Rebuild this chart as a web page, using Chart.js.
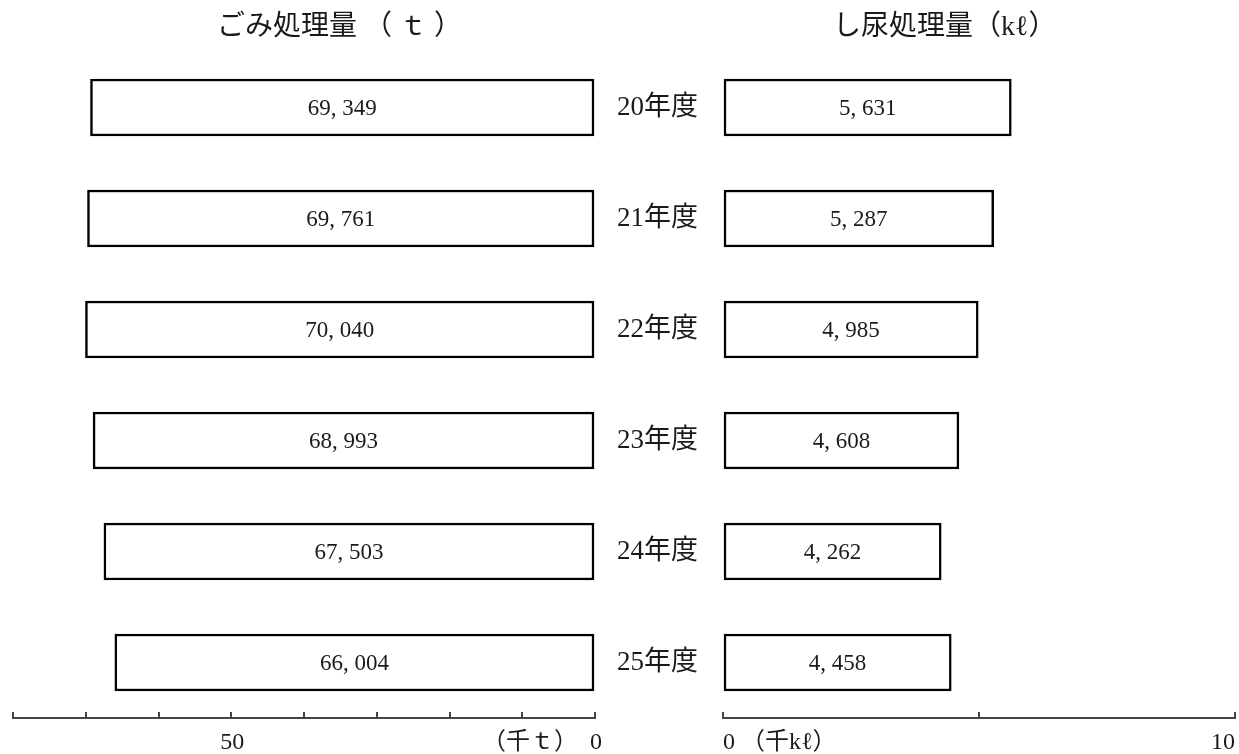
<!DOCTYPE html>
<html><head><meta charset="utf-8">
<script src="https://cdn.jsdelivr.net/npm/chart.js@4.4.0/dist/chart.umd.min.js"></script>
<style>
html,body{margin:0;padding:0;background:#fff;width:1239px;height:754px;overflow:hidden}
#wrap{position:relative;width:1239px;height:754px}
canvas{position:absolute;top:0}
#cL{left:0}
#cR{left:600px}
</style></head><body>
<div id="wrap"><canvas id="cL" width="620" height="754"></canvas><canvas id="cR" width="639" height="754"></canvas></div>
<script>
const categories = ["20年度","21年度","22年度","23年度","24年度","25年度"];
const garbageTons = [69349, 69761, 70040, 68993, 67503, 66004];
const nightSoilKl = [5631, 5287, 4985, 4608, 4262, 4458];
const garbageTitle = "ごみ処理量 （ ｔ ）";
const nightSoilTitle = "し尿処理量（kℓ）";
// the zero label is padded with blank space of equal width on its right so that "0" sits centred on its tick
const garbageTickLabels = {0: "（千ｔ）  0　　　　  ", 50000: "50"};
const nightSoilTickLabels = {0: "0 （千kℓ）", 10000: "10"};

const FAMILY = "'Liberation Serif', 'Noto Sans CJK JP', serif";
const INK = '#1a1a1a';
const AXIS = '#444444';
Chart.defaults.font.family = FAMILY;
Chart.defaults.color = INK;

const valueLabels = {
  id: 'valueLabels',
  afterDatasetsDraw(chart) {
    const ctx = chart.ctx;
    ctx.save();
    ctx.font = '23px ' + FAMILY;
    ctx.fillStyle = INK;
    ctx.textAlign = 'center';
    ctx.textBaseline = 'middle';
    chart.data.datasets.forEach((ds, di) => {
      chart.getDatasetMeta(di).data.forEach((bar, i) => {
        const txt = ds.data[i].toLocaleString('en-US').replace(/,/g, ', ');
        ctx.fillText(txt, (bar.x + bar.base) / 2, bar.y + 1);
      });
    });
    ctx.restore();
  }
};

const sideTitle = {
  id: 'sideTitle',
  afterDraw(chart, args, opts) {
    const ctx = chart.ctx;
    ctx.save();
    ctx.font = '28px ' + FAMILY;
    ctx.fillStyle = INK;
    ctx.textAlign = 'left';
    ctx.textBaseline = 'middle';
    ctx.fillText(opts.text, opts.x, opts.y);
    ctx.restore();
  }
};

function noEdgePadding(s) {
  s.paddingLeft = 0; s.paddingRight = 0; s.paddingTop = 0; s.paddingBottom = 0;
}

function xAxis(max, step, labels, reverse, align, labelOffset) {
  return {
    type: 'linear',
    position: 'bottom',
    min: 0, max: max, reverse: reverse,
    ticks: {
      stepSize: step,
      autoSkip: false,
      maxRotation: 0,
      align: align,
      padding: 16,
      labelOffset: labelOffset,
      color: INK,
      font: {size: 24, family: FAMILY},
      callback: (v) => (labels[v] !== undefined ? labels[v] : '')
    },
    grid: {display: true, drawOnChartArea: false, drawTicks: true, tickLength: -6, color: AXIS, lineWidth: 2},
    border: {display: true, color: AXIS, width: 2},
    afterFit: (s) => { s.height = 36; noEdgePadding(s); }
  };
}

const common = {
  responsive: false,
  animation: false,
  events: [],
  devicePixelRatio: 1,
  indexAxis: 'y'
};

function barSet(values) {
  return {
    data: values,
    backgroundColor: '#ffffff',
    borderColor: '#000000',
    borderWidth: 2.5,
    borderSkipped: false,
    barThickness: 57
  };
}

new Chart(document.getElementById('cL'), {
  type: 'bar',
  data: {labels: categories, datasets: [barSet(garbageTons)]},
  options: Object.assign({}, common, {
    layout: {padding: {left: 13, right: 25, top: 52, bottom: 0}},
    scales: {
      x: xAxis(80000, 10000, garbageTickLabels, true, 'center', 1),
      y: {type: 'category', display: false}
    },
    plugins: {
      legend: {display: false},
      tooltip: {enabled: false},
      sideTitle: {text: garbageTitle, x: 217, y: 28}
    }
  }),
  plugins: [valueLabels, sideTitle]
});

new Chart(document.getElementById('cR'), {
  type: 'bar',
  data: {labels: categories, datasets: [barSet(nightSoilKl)]},
  options: Object.assign({}, common, {
    layout: {padding: {left: 0, right: 4, top: 52, bottom: 0}},
    scales: {
      x: xAxis(10000, 5000, nightSoilTickLabels, false, 'inner', 0),
      y: {
        type: 'category',
        position: 'left',
        grid: {display: false, drawTicks: false},
        border: {display: false},
        ticks: {padding: 25, color: INK, font: {size: 27, family: FAMILY}},
        afterFit: (s) => { s.width = 123; noEdgePadding(s); }
      }
    },
    plugins: {
      legend: {display: false},
      tooltip: {enabled: false},
      sideTitle: {text: nightSoilTitle, x: 233, y: 28}
    }
  }),
  plugins: [valueLabels, sideTitle]
});
</script>
</body></html>
